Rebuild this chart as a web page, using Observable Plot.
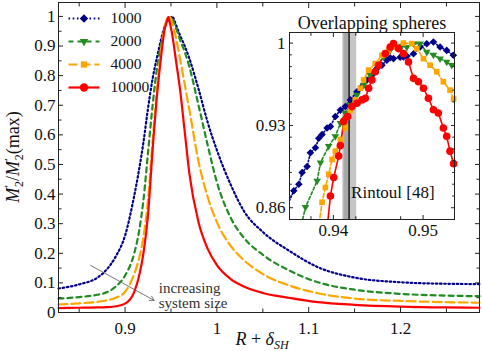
<!DOCTYPE html>
<html><head><meta charset="utf-8">
<script src="https://cdn.jsdelivr.net/npm/d3@7"></script>
<script src="https://cdn.jsdelivr.net/npm/@observablehq/plot@0.6"></script>
<style>
body{margin:0;background:#fff;}
#wrap{position:relative;width:482px;height:351px;}
#wrap svg{position:absolute;left:0;top:0;overflow:visible;}
#wrap svg text{font-family:'Liberation Serif','Times New Roman',serif !important;}
</style></head><body><div id="wrap"></div>
<script>
// ---------- data ----------
const series = ["1000", "2000", "4000", "10000"];

const mainX = [0.8275, 0.85, 0.87, 0.88, 0.89, 0.90, 0.91, 0.915, 0.92, 0.925, 0.93, 0.935, 0.94, 0.943, 0.945, 0.947, 0.949, 0.951, 0.953, 0.955, 0.96, 0.965, 0.97, 0.98, 0.99, 1.0, 1.015, 1.03, 1.05, 1.08, 1.11, 1.15, 1.2, 1.25, 1.286];
const main1000 = [0.081, 0.095, 0.118, 0.145, 0.19, 0.26, 0.395, 0.478, 0.575, 0.69, 0.79, 0.865, 0.932, 0.966, 0.978, 0.987, 0.991, 1.0, 0.992, 0.975, 0.935, 0.9, 0.858, 0.755, 0.642, 0.548, 0.432, 0.34, 0.272, 0.206, 0.153, 0.118, 0.102, 0.097, 0.096];
const main2000 = [0.047, 0.052, 0.06, 0.068, 0.088, 0.125, 0.2, 0.27, 0.38, 0.54, 0.70, 0.83, 0.918, 0.963, 0.981, 0.995, 0.997, 0.993, 0.982, 0.965, 0.92, 0.88, 0.83, 0.70, 0.565, 0.44, 0.32, 0.25, 0.195, 0.14, 0.102, 0.077, 0.063, 0.057, 0.055];
const main4000 = [0.027, 0.031, 0.036, 0.041, 0.05, 0.07, 0.13, 0.18, 0.255, 0.38, 0.58, 0.76, 0.905, 0.962, 0.985, 0.997, 0.998, 0.982, 0.962, 0.935, 0.855, 0.77, 0.685, 0.51, 0.39, 0.305, 0.225, 0.175, 0.13, 0.09, 0.065, 0.047, 0.039, 0.035, 0.033];
const main10000 = [0.015, 0.016, 0.017, 0.018, 0.021, 0.03, 0.07, 0.12, 0.2, 0.33, 0.55, 0.74, 0.885, 0.955, 0.978, 0.998, 0.975, 0.945, 0.905, 0.86, 0.75, 0.61, 0.47, 0.305, 0.215, 0.16, 0.113, 0.087, 0.066, 0.049, 0.035, 0.026, 0.02, 0.017, 0.016];

const ins1000X = [0.93559, 0.93615, 0.93652, 0.93707, 0.93744, 0.938, 0.93837, 0.93874, 0.9393, 0.93967, 0.94022, 0.94078, 0.94133, 0.94189, 0.94263, 0.94319, 0.94374, 0.9443, 0.94485, 0.94541, 0.94596, 0.94633, 0.9467, 0.94744, 0.94781, 0.94819, 0.94893, 0.94967, 0.95041, 0.95115, 0.95189, 0.95263, 0.95337];
const ins1000Y = [0.8744, 0.880, 0.890, 0.895, 0.9067, 0.911, 0.919, 0.9222, 0.9278, 0.929, 0.9376, 0.943, 0.946, 0.9517, 0.9587, 0.963, 0.9686, 0.9728, 0.9784, 0.9812, 0.9854, 0.9875, 0.9868, 0.988, 0.9882, 0.9888, 0.991, 0.9966, 0.9995, 1.001, 0.9966, 0.9938, 0.9896];
const ins2000X = [0.93689, 0.93819, 0.93856, 0.93948, 0.94022, 0.94078, 0.94133, 0.94189, 0.94263, 0.94337, 0.94411, 0.94485, 0.94559, 0.94633, 0.94707, 0.94763, 0.94819, 0.94893, 0.94967, 0.95041, 0.95115, 0.95189, 0.95263, 0.95319];
const ins2000Y = [0.8604, 0.8828, 0.8983, 0.9123, 0.9207, 0.932, 0.9405, 0.9475, 0.9559, 0.9643, 0.9728, 0.9812, 0.9882, 0.9938, 0.9966, 0.9975, 0.9966, 0.9995, 0.9995, 0.9924, 0.990, 0.9868, 0.984, 0.9812];
const ins4000X = [0.93874, 0.93911, 0.93948, 0.93985, 0.94022, 0.94078, 0.94133, 0.94189, 0.94244, 0.943, 0.94337, 0.94393, 0.94467, 0.94541, 0.94615, 0.94689, 0.94781, 0.94874, 0.9493, 0.95004, 0.95078, 0.95152, 0.95226, 0.953, 0.9534];
const ins4000Y = [0.8646, 0.8772, 0.8885, 0.901, 0.9081, 0.918, 0.9278, 0.943, 0.9517, 0.9616, 0.9686, 0.977, 0.9826, 0.9896, 0.9938, 0.9966, 1.0, 0.9995, 0.9953, 0.9868, 0.9812, 0.9756, 0.9671, 0.960, 0.9525];
const ins10000X = [0.93967, 0.94004, 0.94059, 0.94078, 0.94115, 0.94159, 0.94207, 0.94263, 0.94319, 0.94356, 0.94393, 0.9443, 0.94467, 0.94504, 0.94578, 0.94633, 0.9467, 0.94726, 0.94781, 0.94837, 0.94893, 0.94948, 0.95004, 0.95059, 0.95115, 0.9517, 0.95226, 0.95263, 0.953, 0.9534];
const ins10000Y = [0.870, 0.8857, 0.9039, 0.9129, 0.9334, 0.9376, 0.946, 0.9489, 0.9517, 0.9531, 0.9616, 0.9686, 0.9756, 0.9812, 0.991, 0.9966, 0.9995, 0.9953, 0.991, 0.984, 0.970, 0.9671, 0.9616, 0.9531, 0.9433, 0.9405, 0.9278, 0.9207, 0.9081, 0.8975];
// lower points of each inset series, below the inset's frame (only their line segment shows)
const insLeadX = [0.9351, 0.93645, 0.9384, 0.93935];
const insLeadY = [0.866, 0.846, 0.846, 0.846];

const rintoul = 0.94175;
const rintoulBand = [0.94105, 0.9426];
const rintoulInner = [0.9412, 0.9417];

const mainXTicks = [0.9, 1, 1.1, 1.2];
const mainXMinor = [0.85, 0.95, 1.05, 1.15, 1.25];
const mainYTicks = [0, 0.1, 0.2, 0.3, 0.4, 0.5, 0.6, 0.7, 0.8, 0.9, 1];
const mainYMinor = [0.05, 0.15, 0.25, 0.35, 0.45, 0.55, 0.65, 0.75, 0.85, 0.95];
const insXTicks = [0.94, 0.95];
const insXMinor = [0.9375, 0.9425, 0.9475];
const insYTicks = [0.86, 0.93, 1];
const insYMinor = [0.87, 0.88, 0.89, 0.90, 0.91, 0.92, 0.94, 0.95, 0.96, 0.97, 0.98, 0.99];

const annotation = {x1: 0.8625, y1: 0.159, x2: 0.9316, y2: 0.041, tx: 0.9367, ty: 0.1};

// ---------- styles ----------
const FONT = "'Liberation Serif', 'Times New Roman', serif";
const colors = ["#00008b", "#228b22", "#ffa500", "#ff0000"];
const dashes = ["1.6,2.6", "5,4", "9,4", null];
const insDashes = ["1.4,2", "3,2.2", "4.5,2.2", null];
const symbols = ["diamond2", "triangle2", "square2", "circle"];
const symR = [3.4, 3.6, 3.6, 3.8];
const symRot = [0, 180, 0, 0];

const mainYs = [main1000, main2000, main4000, main10000];
const insXs = [ins1000X, ins2000X, ins4000X, ins10000X];
const insYs = [ins1000Y, ins2000Y, ins4000Y, ins10000Y];

const mainRows = series.map((s, i) => mainX.map((x, j) => ({s, x, y: mainYs[i][j]})));
const insRows = series.map((s, i) => insXs[i].map((x, j) => ({s, x, y: insYs[i][j]})));
const insLineRows = series.map((s, i) => [{s, x: insLeadX[i], y: insLeadY[i]}, ...insRows[i]]);

const wrap = document.getElementById("wrap");
const blank = () => "";

function ticks4(xMaj, xMin, yMaj, yMin, len) {
  const m = [];
  for (const [arr, L] of [[xMaj, len], [xMin, len * 0.7]]) {
    m.push(Plot.axisX(arr, {anchor: "bottom", tickSize: L, dy: -L, tickFormat: blank, label: null, stroke: "#222"}));
    m.push(Plot.axisX(arr, {anchor: "top", tickSize: L, dy: L, tickFormat: blank, label: null, stroke: "#222"}));
  }
  for (const [arr, L] of [[yMaj, len], [yMin, len * 0.7]]) {
    m.push(Plot.axisY(arr, {anchor: "left", tickSize: L, dx: L, tickFormat: blank, label: null, stroke: "#222"}));
    m.push(Plot.axisY(arr, {anchor: "right", tickSize: L, dx: -L, tickFormat: blank, label: null, stroke: "#222"}));
  }
  return m;
}

// ---------- main chart ----------
const main = Plot.plot({
  width: 482, height: 351,
  marginLeft: 58, marginRight: 3, marginTop: 2, marginBottom: 39,
  style: {fontFamily: FONT, fontSize: "17px", background: "white", color: "#111"},
  x: {domain: [0.8275, 1.286]},
  y: {domain: [0, 1.047]},
  marks: [
    ...mainRows.map((rows, i) => Plot.line(rows, {x: "x", y: "y", stroke: colors[i], strokeWidth: 2.2, strokeDasharray: dashes[i], curve: "monotone-x"})),
    Plot.arrow([annotation], {x1: "x1", y1: "y1", x2: "x2", y2: "y2", stroke: "#555", strokeWidth: 0.8, headLength: 9}),
    Plot.text([annotation], {x: "tx", y: "ty", text: () => "increasing\nsystem size", textAnchor: "start", lineAnchor: "top", fontSize: 15, lineHeight: 0.97, fill: "#333"}),
    Plot.frame({stroke: "#222"}),
    ...ticks4(mainXTicks, mainXMinor, mainYTicks, mainYMinor, 5),
    Plot.axisX(mainXTicks, {anchor: "bottom", tickSize: 0, tickPadding: 9, tickFormat: String, label: null, fontSize: 17}),
    Plot.axisY(mainYTicks, {anchor: "left", tickSize: 0, tickPadding: 3, tickFormat: String, label: null, fontSize: 17})
  ]
});
wrap.appendChild(main);

// axis labels with sub/superscripts
const svgM = d3.select(main);
const yl = svgM.append("text")
  .attr("transform", "translate(19,157) rotate(-90)")
  .attr("text-anchor", "middle")
  .attr("font-size", 18).attr("fill", "#111");
yl.append("tspan").attr("font-style", "italic").text("M");
yl.append("tspan").attr("dy", -6).attr("font-size", 13).text("′");
yl.append("tspan").attr("dy", 10).attr("dx", -2).attr("font-size", 12).text("2");
yl.append("tspan").attr("dy", -4).text("/");
yl.append("tspan").attr("font-style", "italic").text("M");
yl.append("tspan").attr("dy", -6).attr("font-size", 13).text("′");
yl.append("tspan").attr("dy", 10).attr("dx", -2).attr("font-size", 12).text("2");
yl.append("tspan").attr("dy", -4).text("(max)");

const xl = svgM.append("text")
  .attr("x", 262).attr("y", 345)
  .attr("text-anchor", "middle")
  .attr("font-size", 18).attr("fill", "#111");
xl.append("tspan").attr("font-style", "italic").text("R");
xl.append("tspan").text(" + ");
xl.append("tspan").attr("font-style", "italic").text("δ");
xl.append("tspan").attr("font-style", "italic").attr("font-size", 12).attr("dy", 4).text("SH");

// ---------- inset ----------
const inset = Plot.plot({
  width: 482, height: 351,
  marginLeft: 289, marginRight: 28, marginTop: 32, marginBottom: 132,
  style: {fontFamily: FONT, fontSize: "17px", background: "transparent", color: "#111"},
  x: {domain: [0.93511, 0.9535]},
  y: {domain: [0.85, 1.009]},
  marks: [
    Plot.frame({fill: "white", stroke: null}),
    Plot.rect([rintoulBand], {x1: d => d[0], x2: d => d[1], fill: "#c6c6c6"}),
    Plot.rect([rintoulInner], {x1: d => d[0], x2: d => d[1], fill: "#a9a9a9"}),
    Plot.ruleX([rintoul], {stroke: "#222", strokeWidth: 1.6}),
    Plot.text(["Rintoul [48]"], {x: () => rintoul, frameAnchor: "bottom", dy: -22, dx: 2, textAnchor: "start", fontSize: 17}),
    ...insLineRows.map((rows, i) => Plot.line(rows, {x: "x", y: "y", stroke: colors[i], strokeWidth: 1.6, strokeDasharray: insDashes[i], clip: true})),
    ...insRows.map((rows, i) => Plot.dot(rows, {x: "x", y: "y", fill: colors[i], stroke: null, symbol: () => symbols[i], r: symR[i], rotate: symRot[i]})),
    Plot.frame({stroke: "#222"}),
    ...ticks4(insXTicks, insXMinor, insYTicks, insYMinor, 4),
    Plot.axisX(insXTicks, {anchor: "bottom", tickSize: 0, tickPadding: 4, tickFormat: String, label: null, fontSize: 17}),
    Plot.axisY(insYTicks, {anchor: "left", tickSize: 0, tickPadding: 4, tickFormat: String, label: null, fontSize: 17}),
    Plot.text(["Overlapping spheres"], {frameAnchor: "top", dy: -16, fontSize: 18})
  ]
});
wrap.appendChild(inset);

// ---------- legend ----------
const legend = Plot.plot({
  width: 482, height: 351,
  marginLeft: 68, marginRight: 383, marginTop: 17, marginBottom: 264,
  style: {fontFamily: FONT, fontSize: "15px", background: "transparent", color: "#111"},
  x: {domain: [0, 1], axis: null},
  y: {type: "point", domain: series, axis: null, padding: 0},
  marks: [
    ...series.map((s, i) => Plot.link([s], {x1: 0, x2: 1, y1: d => d, y2: d => d, stroke: colors[i], strokeWidth: 2.2, strokeDasharray: dashes[i]})),
    ...series.map((s, i) => Plot.dot([s], {x: 0.5, y: d => d, fill: colors[i], stroke: null, symbol: () => symbols[i], r: symR[i] + 0.4, rotate: symRot[i]})),
    Plot.text(series, {x: 1, y: d => d, text: d => d, dx: 11, textAnchor: "start", fontSize: 15.5})
  ]
});
wrap.appendChild(legend);
</script>
</body></html>
